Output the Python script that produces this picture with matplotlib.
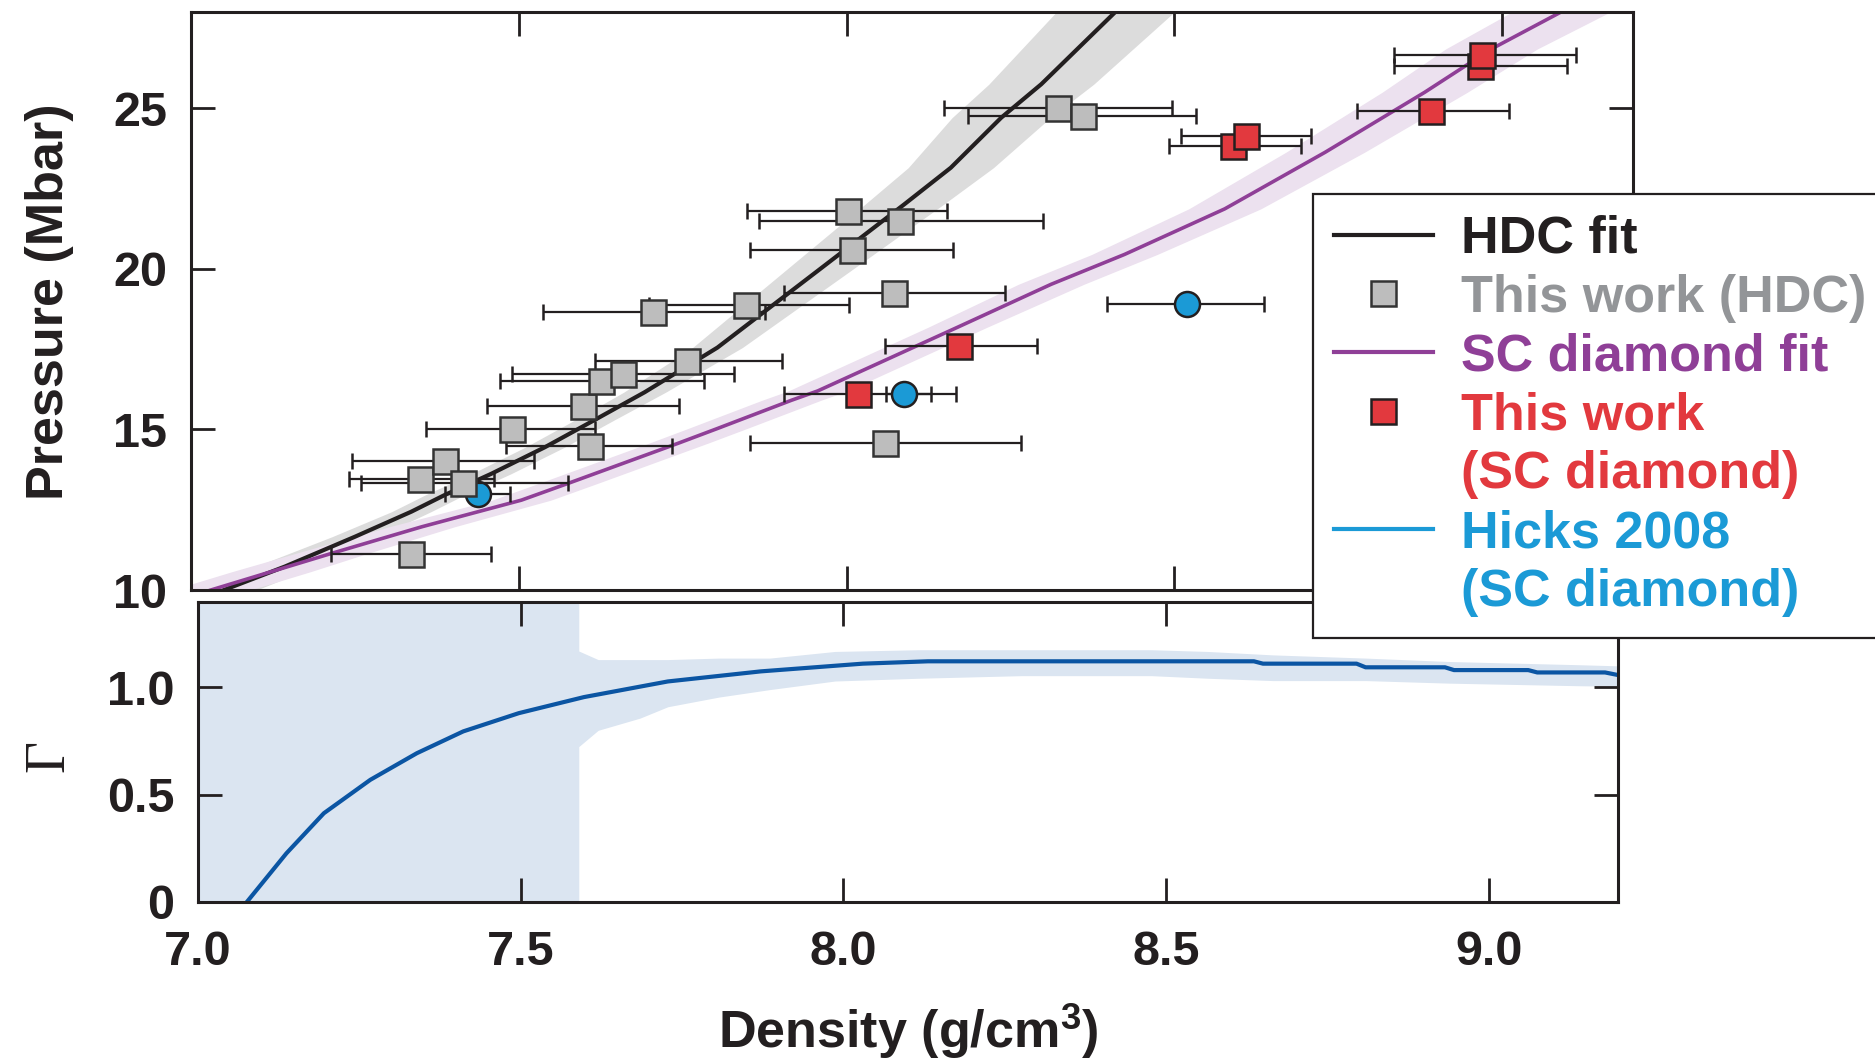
import matplotlib
matplotlib.use("Agg")
import matplotlib.pyplot as plt
from matplotlib.lines import Line2D
import numpy as np

plt.rcParams["font.family"] = ["Liberation Sans", "DejaVu Sans"]
plt.rcParams["font.weight"] = "bold"
plt.rcParams["axes.labelweight"] = "bold"
plt.rcParams["mathtext.fontset"] = "custom"
plt.rcParams["mathtext.rm"] = "Liberation Sans:bold"
plt.rcParams["mathtext.default"] = "rm"

# ---------------- cores ----------------
PRETO = "#231f20"
CINZA_FAIXA = "#dcdcdc"
CINZA_MK = "#bdbdbd"
CINZA_TXT = "#939598"
ROXO = "#8f3f97"
LILAS = "#ece1ef"
VERMELHO = "#e2393e"
AZUL = "#1b9ad6"
AZUL_ESC = "#0b55a3"
AZUL_CLARO = "#dbe5f1"

# ---------------- dados: este trabalho (HDC) ----------------
hdc_rho = [7.335, 7.349, 7.387, 7.415, 7.490, 7.608, 7.598, 7.626, 7.659, 7.757,
           7.847, 7.705, 8.002, 8.082, 8.008, 8.073, 8.059, 8.322, 8.360]
hdc_p = [11.12, 13.46, 14.02, 13.32, 15.03, 14.48, 15.73, 16.51, 16.74, 17.14,
         18.87, 18.65, 21.81, 21.49, 20.58, 19.24, 14.57, 25.02, 24.76]
hdc_rho_lo = [7.213, 7.241, 7.245, 7.260, 7.359, 7.481, 7.452, 7.472, 7.490, 7.617,
              7.699, 7.537, 7.848, 7.866, 7.852, 7.904, 7.852, 8.149, 8.186]
hdc_rho_hi = [7.457, 7.462, 7.523, 7.575, 7.616, 7.734, 7.745, 7.782, 7.829, 7.901,
              8.003, 7.875, 8.153, 8.299, 8.162, 8.242, 8.266, 8.496, 8.533]

# ---------------- dados: este trabalho (SC diamond) ----------------
sc_rho = [8.017, 8.172, 8.590, 8.609, 8.891, 8.966, 8.970]
sc_p = [16.12, 17.60, 23.84, 24.15, 24.93, 26.33, 26.66]
sc_rho_lo = [7.904, 8.058, 8.492, 8.510, 8.778, 8.835, 8.835]
sc_rho_hi = [8.129, 8.290, 8.694, 8.708, 9.010, 9.099, 9.113]

# ---------------- dados: Hicks 2008 ----------------
hicks_rho = [7.437, 8.087, 8.520]
hicks_p = [12.99, 16.12, 18.91]
hicks_rho_lo = [7.387, 8.060, 8.397]
hicks_rho_hi = [7.487, 8.167, 8.637]

# ---------------- ajustes ----------------
hdc_fit_rho = [7.05, 7.143, 7.250, 7.336, 7.387, 7.458, 7.540, 7.616, 7.692, 7.803,
               7.956, 8.088, 8.159, 8.236, 8.297, 8.41]
hdc_fit_p = [10.0, 10.73, 11.66, 12.44, 12.96, 13.62, 14.45, 15.30, 16.16, 17.55,
             19.94, 22.01, 23.15, 24.71, 25.75, 28.0]
hdc_fit_drho = [0.05, 0.045, 0.035, 0.03, 0.03, 0.03, 0.03, 0.03, 0.032, 0.038,
                0.05, 0.06, 0.065, 0.075, 0.08, 0.09]

sc_fit_rho = [7.03, 7.122, 7.214, 7.352, 7.504, 7.575, 7.743, 7.803, 7.916,
              7.956, 8.169, 8.312, 8.424, 8.577, 8.730, 8.882, 8.984, 9.09]
sc_fit_p = [10.0, 10.57, 11.14, 11.97, 12.80, 13.32, 14.57, 15.03, 15.91,
            16.20, 18.18, 19.52, 20.45, 21.87, 23.63, 25.50, 26.85, 28.0]
sc_fit_drho = [0.06, 0.06, 0.055, 0.05, 0.045, 0.045, 0.045, 0.045, 0.045,
               0.045, 0.045, 0.05, 0.05, 0.055, 0.06, 0.065, 0.07, 0.075]

# ---------------- Gamma (painel inferior) ----------------
gamma_rho = [7.076, 7.137, 7.195, 7.267, 7.339, 7.411, 7.497, 7.598, 7.728, 7.872,
             8.030, 8.131, 8.636, 8.650, 8.795, 8.809, 8.932, 8.946, 9.061, 9.075,
             9.180, 9.205]
gamma_val = [0.0, 0.226, 0.413, 0.569, 0.693, 0.795, 0.880, 0.955, 1.028, 1.075,
             1.111, 1.122, 1.122, 1.111, 1.111, 1.094, 1.094, 1.081, 1.081, 1.070,
             1.070, 1.055]
gband_rho = [7.0, 7.59, 7.59, 7.62, 7.685, 7.728, 7.807, 7.886, 7.987, 8.117,
             8.276, 8.477, 8.564, 8.665, 8.809, 8.939, 9.14, 9.21]
gband_lo = [0.0, 0.0, 0.724, 0.80, 0.857, 0.91, 0.955, 0.99, 1.03, 1.043,
            1.055, 1.055, 1.043, 1.032, 1.032, 1.02, 1.008, 1.005]
gband_hi = [1.5, 1.5, 1.17, 1.13, 1.13, 1.13, 1.137, 1.137, 1.168, 1.176,
            1.176, 1.176, 1.168, 1.152, 1.137, 1.121, 1.106, 1.10]

# ------------------------------------------------------------------
fig = plt.figure(figsize=(18.75, 10.62), dpi=100)
ax1 = fig.add_axes([0.1019, 0.4444, 0.7691, 0.5443])
ax2 = fig.add_axes([0.1056, 0.1509, 0.7573, 0.2825])


def xerr_de(x, lo, hi):
    x, lo, hi = np.array(x), np.array(lo), np.array(hi)
    return [x - lo, hi - x]


# faixas e ajustes
ax1.fill_betweenx(hdc_fit_p, np.array(hdc_fit_rho) - hdc_fit_drho,
                  np.array(hdc_fit_rho) + hdc_fit_drho, color=CINZA_FAIXA, lw=0, zorder=1)
ax1.fill_betweenx(sc_fit_p, np.array(sc_fit_rho) - sc_fit_drho,
                  np.array(sc_fit_rho) + sc_fit_drho, color=LILAS, lw=0, zorder=1)
ax1.plot(hdc_fit_rho, hdc_fit_p, color=PRETO, lw=3, zorder=2)
ax1.plot(sc_fit_rho, sc_fit_p, color=ROXO, lw=2.6, zorder=2)

estilo_barra = dict(ecolor=PRETO, elinewidth=1.6, capsize=5.5, capthick=1.6)
ax1.errorbar(sc_rho, sc_p, xerr=xerr_de(sc_rho, sc_rho_lo, sc_rho_hi), fmt="s",
             ms=18, mfc=VERMELHO, mec=PRETO, mew=1.8, zorder=3, **estilo_barra)
ax1.errorbar(hicks_rho, hicks_p, xerr=xerr_de(hicks_rho, hicks_rho_lo, hicks_rho_hi),
             fmt="o", ms=18, mfc=AZUL, mec=PRETO, mew=1.8, zorder=4, **estilo_barra)
ax1.errorbar(hdc_rho, hdc_p, xerr=xerr_de(hdc_rho, hdc_rho_lo, hdc_rho_hi), fmt="s",
             ms=18, mfc=CINZA_MK, mec="#333333", mew=1.8, zorder=5, **estilo_barra)

ax1.set_xlim(7.0, 9.2)
ax1.set_ylim(10, 28)
ax1.set_xticks([7.5, 8.0, 8.5, 9.0])
ax1.set_yticks([10, 15, 20, 25])
ax1.tick_params(direction="in", length=17, width=2, top=True, right=True,
                labelbottom=False, labelsize=35, pad=17, colors=PRETO)
ax1.set_ylabel("Pressure (Mbar)", fontsize=37.5, color=PRETO, fontweight="bold")
ax1.yaxis.set_label_coords(-0.081, 0.498)

# painel Gamma
ax2.fill_between(gband_rho, gband_lo, gband_hi, color=AZUL_CLARO, lw=0, zorder=1)
ax2.plot(gamma_rho, gamma_val, color=AZUL_ESC, lw=3, zorder=2)
ax2.set_xlim(7.0, 9.2)
ax2.set_ylim(0, 1.40)
ax2.set_xticks([7.0, 7.5, 8.0, 8.5, 9.0])
ax2.set_xticklabels(["7.0", "7.5", "8.0", "8.5", "9.0"])
ax2.set_yticks([0, 0.5, 1.0])
ax2.set_yticklabels(["0", "0.5", "1.0"])
ax2.tick_params(direction="in", length=17, width=2, top=True, right=True,
                labelsize=35, colors=PRETO)
ax2.tick_params(axis="x", pad=20)
ax2.tick_params(axis="y", pad=17)
ax2.set_xlabel(r"Density (g/cm$^3$)", fontsize=37.5, color=PRETO, fontweight="bold")
ax2.xaxis.set_label_coords(0.5, -0.33)
ax2.set_ylabel("Γ", fontsize=40, color=PRETO, family="Liberation Serif",
               fontweight="normal")
ax2.yaxis.set_label_coords(-0.0866, 0.486)

for ax in (ax1, ax2):
    for sp in ax.spines.values():
        sp.set_linewidth(2.2)
        sp.set_color(PRETO)

# legenda (segunda linha dos rótulos longos como entrada sem alça)
vazio = Line2D([], [], ls="none")
alcas = [
    Line2D([], [], color=PRETO, lw=3),
    Line2D([], [], ls="none", marker="s", ms=18, mfc=CINZA_MK, mec="#333333", mew=1.8),
    Line2D([], [], color=ROXO, lw=3),
    Line2D([], [], ls="none", marker="s", ms=18, mfc=VERMELHO, mec=PRETO, mew=1.8),
    vazio,
    Line2D([], [], color=AZUL, lw=3),
    vazio,
]
rotulos = ["HDC fit", "This work (HDC)", "SC diamond fit",
           "This work", "(SC diamond)", "Hicks 2008", "(SC diamond)"]
cores_txt = [PRETO, CINZA_TXT, ROXO, VERMELHO, VERMELHO, AZUL, AZUL]
leg = fig.legend(alcas, rotulos, loc="upper left",
                 bbox_to_anchor=(1313 / 1875, 1 - 194 / 1062), borderaxespad=0,
                 fontsize=37.5, frameon=True, fancybox=False, framealpha=1,
                 edgecolor=PRETO, handlelength=1.9, handletextpad=0.54,
                 borderpad=0.4, labelspacing=0.19)
leg.get_frame().set_linewidth(1.6)
for t, c in zip(leg.get_texts(), cores_txt):
    t.set_color(c)

fig.savefig("out.png", dpi=100)
